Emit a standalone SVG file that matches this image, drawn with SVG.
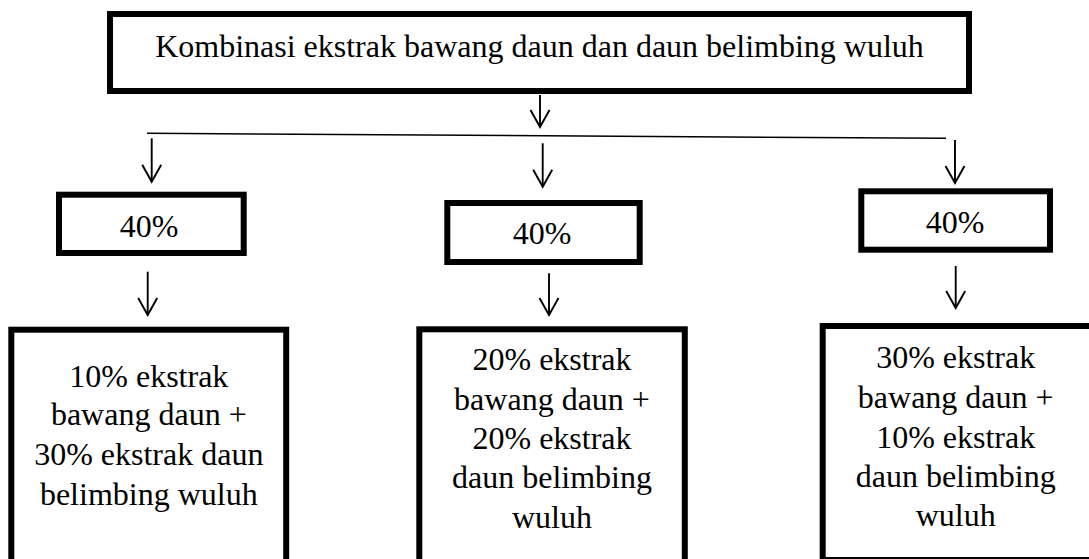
<svg xmlns="http://www.w3.org/2000/svg" width="1089" height="559" viewBox="0 0 1089 559">
<style>
.box{fill:#fff;stroke:#000;stroke-width:6}
.t{font-family:"Liberation Serif","Times New Roman",serif;font-size:32px;fill:#000;text-anchor:middle}
.arr{fill:none;stroke:#000;stroke-width:1.9;marker-end:url(#ah)}
.ln{fill:none;stroke:#000;stroke-width:1.5}
</style>
<defs>
<marker id="ah" markerUnits="userSpaceOnUse" viewBox="-20 -12 24 24" markerWidth="24" markerHeight="24" refX="0" refY="0" orient="auto" overflow="visible">
<path d="M-17,-9.5 L0,0 L-17,9.5" fill="none" stroke="#000" stroke-width="1.9"/>
</marker>
</defs>
<rect width="1089" height="559" fill="#fff"/>
<g id="connectors">
<path class="ln" d="M147,133.3 L946,138.3"/>
<path class="arr" d="M540,95 V127"/>
<path class="arr" d="M151.7,138.3 V181.7"/>
<path class="arr" d="M542.7,143.3 V186.7"/>
<path class="arr" d="M955,140 V183"/>
<path class="arr" d="M147.7,271.7 V315"/>
<path class="arr" d="M549,273.3 V315"/>
<path class="arr" d="M955.7,266 V308"/>
</g>
<g id="root">
<rect class="box" x="110" y="14" width="859" height="77"/>
<text class="t" x="539.5" y="57">Kombinasi ekstrak bawang daun dan daun belimbing wuluh</text>
</g>
<g id="p1">
<rect class="box" x="59" y="194.7" width="184.7" height="58.3"/>
<text class="t" x="149.2" y="237.3">40%</text>
</g>
<g id="p2">
<rect class="box" x="447.3" y="203" width="192.4" height="59"/>
<text class="t" x="542" y="244">40%</text>
</g>
<g id="p3">
<rect class="box" x="861.3" y="191.3" width="188.7" height="58.4"/>
<text class="t" x="955" y="232.7">40%</text>
</g>
<g id="c1">
<rect class="box" x="11.3" y="329.7" width="274.9" height="300"/>
<text class="t" x="148.8" y="386.7">10% ekstrak</text>
<text class="t" x="148.8" y="425">bawang daun +</text>
<text class="t" x="148.8" y="465">30% ekstrak daun</text>
<text class="t" x="148.8" y="505">belimbing wuluh</text>
</g>
<g id="c2">
<rect class="box" x="419.3" y="329.3" width="265.5" height="300"/>
<text class="t" x="552" y="370">20% ekstrak</text>
<text class="t" x="552" y="410">bawang daun +</text>
<text class="t" x="552" y="449.3">20% ekstrak</text>
<text class="t" x="552" y="488.3">daun belimbing</text>
<text class="t" x="552" y="528.3">wuluh</text>
</g>
<g id="c3">
<rect class="box" x="822.7" y="326" width="270" height="234"/>
<text class="t" x="955.7" y="368.3">30% ekstrak</text>
<text class="t" x="955.7" y="408.3">bawang daun +</text>
<text class="t" x="955.7" y="447.7">10% ekstrak</text>
<text class="t" x="955.7" y="486.7">daun belimbing</text>
<text class="t" x="955.7" y="526">wuluh</text>
</g>
</svg>
